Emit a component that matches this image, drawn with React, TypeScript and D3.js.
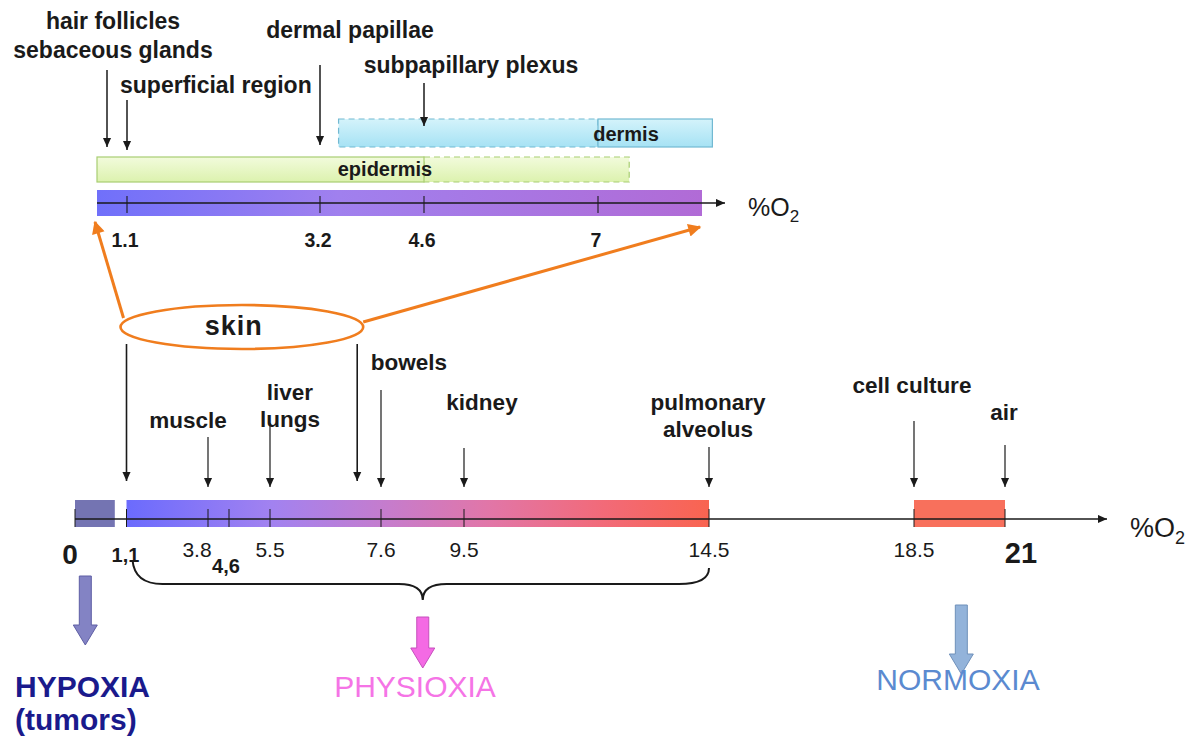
import * as d3 from "d3";

// whole-body O2 axis (%)
const bodyTicks = [0, 1.1, 3.8, 4.6, 5.5, 7.6, 9.5, 14.5, 18.5, 21];
const bodyTickLabels = ["0", "1,1", "3.8", "4,6", "5.5", "7.6", "9.5", "14.5", "18.5", "21"];
const organNames = ["muscle", "liver\nlungs", "bowels", "kidney", "pulmonary\nalveolus", "cell culture", "air"];
const organO2 = [3.8, 5.5, 7.6, 9.5, 14.5, 18.5, 21];
const skinRange = [1.1, 7.15];

const zoneNames = ["HYPOXIA\n(tumors)", "PHYSIOXIA", "NORMOXIA"];
const zoneRanges = [
  [0, 0.85],
  [1.1, 14.5],
  [18.5, 21],
];

// skin detail axis (%)
const skinExtent = [0.8, 8];
const skinTicks = [1.1, 3.2, 4.6, 7];
const skinSites = ["hair follicles\nsebaceous glands", "superficial region", "dermal papillae", "subpapillary plexus"];
const skinSiteO2 = [0.9, 1.1, 3.2, 4.6];
const layerNames = ["epidermis", "dermis"];
const layerSolid = [
  [0.8, 4.6],
  [7, 8.1],
];
const layerDashed = [
  [4.6, 7.3],
  [3.45, 7],
];

const FONT = "'Liberation Sans', Arial, Helvetica, sans-serif";

function Lines({ text, x, y, lh, ...rest }: any) {
  return (
    <text x={x} y={y} fontFamily={FONT} {...rest}>
      {text.split("\n").map((t: string, i: number) => (
        <tspan key={i} x={x} dy={i === 0 ? 0 : lh}>
          {t}
        </tspan>
      ))}
    </text>
  );
}

function blockArrow(cx: number, y0: number, y1: number, sw: number, hw: number, hl: number) {
  return `M${cx - sw / 2},${y0}H${cx + sw / 2}V${y1 - hl}H${cx + hw / 2}L${cx},${y1}L${cx - hw / 2},${y1 - hl}H${cx - sw / 2}Z`;
}

export default function App() {
  const width = 1196;
  const height = 738;

  // hand-drawn axis: piecewise linear
  const x = d3
    .scaleLinear()
    .domain(bodyTicks)
    .range([75, 126.5, 208, 229, 270, 381, 464, 709, 914, 1005]);
  const xs = d3
    .scaleLinear()
    .domain([skinExtent[0], ...skinTicks, skinExtent[1]])
    .range([97, 127, 320, 424, 598, 702]);

  const axisY = 519;
  const barTop = 500;
  const barBot = 527;
  const tip = 487;

  const sAxisY = 203;
  const sBarTop = 190;
  const sBarBot = 216;

  const organLayout = [
    { dx: -20, ty: 428, top: 437 },
    { dx: 20, ty: 400, top: 423 },
    { dx: 28, ty: 370, top: 390 },
    { dx: 18, ty: 410, top: 448 },
    { dx: -1, ty: 410, top: 447 },
    { dx: -2, ty: 393, top: 421 },
    { dx: -1, ty: 420, top: 445 },
  ];

  const siteLayout = [
    { tx: 113, ty: 29, anchor: "middle", top: 70, end: 147 },
    { tx: 120, ty: 93, anchor: "start", top: 100, end: 150 },
    { tx: 350, ty: 38, anchor: "middle", top: 65, end: 145 },
    { tx: 471, ty: 73, anchor: "middle", top: 83, end: 126 },
  ];
  const layerY = [
    [157, 182],
    [119, 147],
  ];

  // skin ellipse spans the two skin arrows
  const ex0 = x(skinRange[0]);
  const ex1 = x(skinRange[1]);
  const ecx = (ex0 + ex1) / 2;
  const erx = (ex1 - ex0) / 2 + 6;
  const ecy = 327;
  const ery = 22;

  // brace under the physioxia range
  const bx0 = x(zoneRanges[1][0]) + 6;
  const bx1 = x(zoneRanges[1][1]);
  const bm = (x(zoneRanges[1][0]) + x(zoneRanges[1][1])) / 2 + 5;
  const brace = d3.path();
  brace.moveTo(bx0, 560);
  brace.quadraticCurveTo(bx0 + 2, 584, bx0 + 30, 584);
  brace.lineTo(bm - 24, 584);
  brace.quadraticCurveTo(bm, 584, bm, 600);
  brace.quadraticCurveTo(bm, 584, bm + 24, 584);
  brace.lineTo(bx1 - 30, 584);
  brace.quadraticCurveTo(bx1, 584, bx1, 568);

  const zoneArrowX = [x(0.22), bm, x(19.8)];
  const zoneArrowY = [
    [576, 645],
    [617, 668],
    [605, 674],
  ];
  const zoneFill = ["#8383c4", "#f46ae4", "#93b3da"];
  const zoneStroke = ["#5e5ea4", "#c64fbd", "#6f90ba"];
  const zoneText = ["#1a1a8c", "#f574e6", "#5b8ad0"];
  const zoneWeight = [700, 400, 400];

  const tickLabelStyle: any = {
    "0": { dx: -5, y: 564, size: 28, weight: 700 },
    "1,1": { dx: -1, y: 562, size: 20, weight: 700 },
    "3.8": { dx: -11, y: 557, size: 21, weight: 400 },
    "4,6": { dx: -3, y: 573, size: 20, weight: 700 },
    "21": { dx: 16, y: 563, size: 29, weight: 700 },
  };

  const bodyMax = bodyTicks[bodyTicks.length - 1];

  return (
    <svg
      width={width}
      height={height}
      style={{ position: "absolute", left: 0, top: 0, background: "#fff" }}
    >
      <defs>
        <marker id="ah" viewBox="0 0 10 10" refX="10" refY="5" markerWidth="9" markerHeight="9" markerUnits="userSpaceOnUse" orient="auto">
          <path d="M0,0.5 L10,5 L0,9.5 z" fill="#1a1a1a" />
        </marker>
        <marker id="ahOrange" viewBox="0 0 10 10" refX="9" refY="5" markerWidth="15" markerHeight="13" markerUnits="userSpaceOnUse" orient="auto">
          <path d="M0,0 L10,5 L0,10 z" fill="#f07d1e" />
        </marker>
        <linearGradient id="physioGrad" gradientUnits="userSpaceOnUse" x1={x(zoneRanges[1][0])} x2={x(zoneRanges[1][1])} y1={0} y2={0}>
          <stop offset="0" stopColor="#6b6bfd" />
          <stop offset="0.25" stopColor="#a282f0" />
          <stop offset="0.45" stopColor="#c67ccc" />
          <stop offset="0.62" stopColor="#e176a8" />
          <stop offset="0.82" stopColor="#f26a78" />
          <stop offset="1" stopColor="#f96450" />
        </linearGradient>
        <linearGradient id="skinGrad" gradientUnits="userSpaceOnUse" x1={xs(skinExtent[0])} x2={xs(skinExtent[1])} y1={0} y2={0}>
          <stop offset="0" stopColor="#7070fa" />
          <stop offset="0.4" stopColor="#a080ee" />
          <stop offset="1" stopColor="#b16bd6" />
        </linearGradient>
        <linearGradient id="epiGrad" x1="0" x2="0" y1="0" y2="1">
          <stop offset="0" stopColor="#f2fbdc" />
          <stop offset="1" stopColor="#dcf2ae" />
        </linearGradient>
        <linearGradient id="derGrad" x1="0" x2="0" y1="0" y2="1">
          <stop offset="0" stopColor="#d4f3fb" />
          <stop offset="1" stopColor="#a6e2f4" />
        </linearGradient>
      </defs>

      {/* ---------- skin detail ---------- */}
      {layerNames.map((name, i) => {
        const [y0, y1] = layerY[i];
        const fill = i === 0 ? "url(#epiGrad)" : "url(#derGrad)";
        const stroke = i === 0 ? "#a8ce72" : "#72b9d2";
        return (
          <g key={name}>
            <rect x={xs(layerDashed[i][0])} y={y0} width={xs(layerDashed[i][1]) - xs(layerDashed[i][0])} height={y1 - y0} fill={fill} stroke={stroke} strokeDasharray="6,4" strokeWidth={1.2} />
            <rect x={xs(layerSolid[i][0])} y={y0} width={xs(layerSolid[i][1]) - xs(layerSolid[i][0])} height={y1 - y0} fill={fill} stroke={stroke} strokeWidth={1.2} />
          </g>
        );
      })}
      <text x={385} y={176} textAnchor="middle" fontFamily={FONT} fontWeight={700} fontSize={20} fill="#1a1a1a">
        {layerNames[0]}
      </text>
      <text x={626} y={141} textAnchor="middle" fontFamily={FONT} fontWeight={700} fontSize={20} fill="#1a1a1a">
        {layerNames[1]}
      </text>

      <rect x={xs(skinExtent[0])} y={sBarTop} width={xs(skinExtent[1]) - xs(skinExtent[0])} height={sBarBot - sBarTop} fill="url(#skinGrad)" />
      <line x1={xs(skinExtent[0])} x2={xs(skinExtent[1]) + 23} y1={sAxisY} y2={sAxisY} stroke="#1a1a1a" strokeWidth={1.4} markerEnd="url(#ah)" />
      {skinTicks.map((t) => (
        <g key={t}>
          <line x1={xs(t)} x2={xs(t)} y1={sAxisY - 7} y2={sAxisY + 10} stroke="#1a1a1a" strokeWidth={1.1} />
          <text x={xs(t) - 2} y={247} textAnchor="middle" fontFamily={FONT} fontWeight={700} fontSize={19.5} fill="#1a1a1a">
            {t}
          </text>
        </g>
      ))}
      <text x={748} y={216} fontFamily={FONT} fontSize={25} fill="#1a1a1a">
        %O<tspan fontSize={17} dy={6}>2</tspan>
      </text>

      {skinSites.map((name, i) => {
        const l = siteLayout[i];
        const sx = xs(skinSiteO2[i]);
        return (
          <g key={name}>
            <Lines text={name} x={l.tx} y={l.ty} lh={29} textAnchor={l.anchor} fontWeight={700} fontSize={23} fill="#1a1a1a" />
            <line x1={sx} x2={sx} y1={l.top} y2={l.end} stroke="#1a1a1a" strokeWidth={1.5} markerEnd="url(#ah)" />
          </g>
        );
      })}

      {/* ---------- skin ellipse + connectors ---------- */}
      <ellipse cx={ecx} cy={ecy} rx={erx} ry={ery} fill="none" stroke="#f07d1e" strokeWidth={2.6} />
      <text x={ecx - 8} y={ecy + 8} textAnchor="middle" fontFamily={FONT} fontWeight={700} fontSize={27} letterSpacing={1} fill="#1a1a1a">
        skin
      </text>
      <line x1={ecx - erx + 3} y1={ecy - 9} x2={xs(skinExtent[0]) - 2} y2={sBarBot + 6} stroke="#f07d1e" strokeWidth={3} markerEnd="url(#ahOrange)" />
      <line x1={ecx + erx} y1={ecy - 5} x2={xs(skinExtent[1]) - 2} y2={sBarBot + 11} stroke="#f07d1e" strokeWidth={3} markerEnd="url(#ahOrange)" />
      {skinRange.map((v) => (
        <line key={v} x1={x(v)} x2={x(v)} y1={344} y2={481} stroke="#1a1a1a" strokeWidth={1.6} markerEnd="url(#ah)" />
      ))}

      {/* ---------- organ markers ---------- */}
      {organNames.map((name, i) => {
        const l = organLayout[i];
        const ox = x(organO2[i]);
        return (
          <g key={name}>
            <Lines text={name} x={ox + l.dx} y={l.ty} lh={27} textAnchor="middle" fontWeight={700} fontSize={22.5} fill="#1a1a1a" />
            <line x1={ox} x2={ox} y1={l.top} y2={tip} stroke="#1a1a1a" strokeWidth={1.2} markerEnd="url(#ah)" />
          </g>
        );
      })}

      {/* ---------- body O2 axis ---------- */}
      <rect x={x(zoneRanges[0][0])} y={barTop} width={x(zoneRanges[0][1]) - x(zoneRanges[0][0])} height={barBot - barTop} fill="#7474b2" />
      <rect x={x(zoneRanges[1][0])} y={barTop} width={x(zoneRanges[1][1]) - x(zoneRanges[1][0])} height={barBot - barTop} fill="url(#physioGrad)" />
      <rect x={x(zoneRanges[2][0])} y={barTop} width={x(zoneRanges[2][1]) - x(zoneRanges[2][0])} height={barBot - barTop} fill="#f8705c" />
      <line x1={x(0)} x2={x(bodyMax) + 102} y1={axisY} y2={axisY} stroke="#1a1a1a" strokeWidth={1.3} markerEnd="url(#ah)" />
      {bodyTicks.map((t, i) => {
        const lab = bodyTickLabels[i];
        const st = tickLabelStyle[lab] || { dx: 0, y: 557, size: 21, weight: 400 };
        return (
          <g key={t}>
            <line x1={x(t)} x2={x(t)} y1={axisY - 10} y2={barBot} stroke="#1a1a1a" strokeWidth={1} />
            <text x={x(t) + st.dx} y={st.y} textAnchor="middle" fontFamily={FONT} fontWeight={st.weight} fontSize={st.size} fill="#1a1a1a">
              {lab}
            </text>
          </g>
        );
      })}
      <text x={1130} y={537} fontFamily={FONT} fontSize={27} fill="#1a1a1a">
        %O<tspan fontSize={18} dy={7}>2</tspan>
      </text>

      {/* ---------- zones ---------- */}
      <path d={brace.toString()} fill="none" stroke="#1a1a1a" strokeWidth={2} />
      {zoneNames.map((name, i) => (
        <path
          key={name}
          d={blockArrow(zoneArrowX[i], zoneArrowY[i][0], zoneArrowY[i][1], 12, 24, 20)}
          fill={zoneFill[i]}
          stroke={zoneStroke[i]}
          strokeWidth={1}
        />
      ))}
      <Lines text={zoneNames[0]} x={15} y={697} lh={33} fontWeight={zoneWeight[0]} fontSize={30} fill={zoneText[0]} />
      <Lines text={zoneNames[1]} x={415} y={697} lh={33} textAnchor="middle" fontWeight={zoneWeight[1]} fontSize={30} fill={zoneText[1]} />
      <Lines text={zoneNames[2]} x={958} y={690} lh={33} textAnchor="middle" fontWeight={zoneWeight[2]} fontSize={30} fill={zoneText[2]} />
    </svg>
  );
}
